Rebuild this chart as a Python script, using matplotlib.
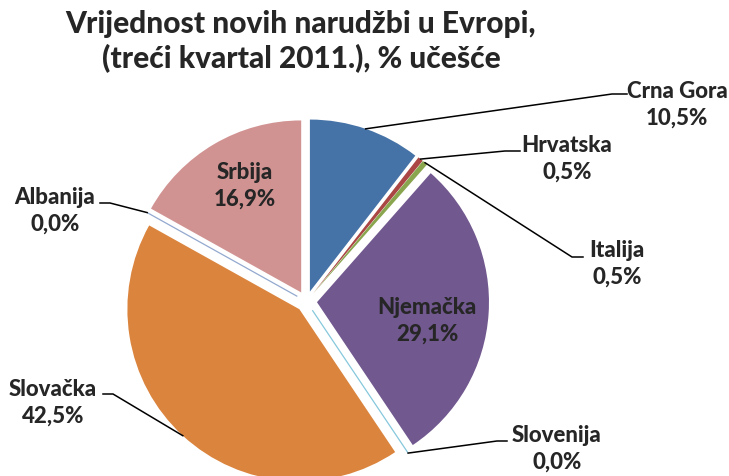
import matplotlib
matplotlib.use("Agg")
import matplotlib.pyplot as plt
import numpy as np

# data ---------------------------------------------------------------------
countries = ["Crna Gora", "Hrvatska", "Italija", "Njemačka", "Slovenija",
             "Slovačka", "Albanija", "Srbija"]
shares = [10.5, 0.5, 0.5, 29.1, 0.0, 42.5, 0.0, 16.9]
colors = ["#4572A7", "#AA4643", "#89A54E", "#71588F", "#86C8DC",
          "#DB843D", "#93A9CF", "#D19392"]

TXT = "#262626"
FONT = "Lato"
WEIGHT = "black"

# figure in pixel coordinates (y measured up from the bottom)
W, H = 729, 476
fig = plt.figure(figsize=(W / 100, H / 100), dpi=100)
ax = fig.add_axes([0, 0, 1, 1])

CX, CY, R = 306.5, H - 301.5, 172
wedges, _ = ax.pie(shares, colors=colors, startangle=90, counterclock=False,
                   radius=R, center=(CX, CY), explode=[10.5] * len(shares),
                   wedgeprops=dict(edgecolor="none", linewidth=0))
for w, v, c in zip(wedges, shares, colors):
    if v == 0:
        w.set_edgecolor(c); w.set_linewidth(0.9)

ax.set_xlim(0, W)
ax.set_ylim(0, H)
ax.set_aspect("equal")
ax.axis("off")


def edge_point(w):
    a = np.deg2rad((w.theta1 + w.theta2) / 2)
    return w.center[0] + w.r * np.cos(a), w.center[1] + w.r * np.sin(a)


def fmt(v):
    return f"{v:.1f}%".replace(".", ",")


# outside labels: elbow, line end, text centre (pixels from top-left)
outside = {
    "Crna Gora": ((612, 94), (627, 94), (677, 105)),
    "Hrvatska": ((505, 151), (520, 151), (567, 159)),
    "Italija": ((572, 257), (583, 257), (617, 264)),
    "Slovenija": ((497, 441), (507, 441), (557, 449)),
    "Slovačka": ((113, 394), (103, 394), (53, 403)),
    "Albanija": ((110, 203), (100, 203), (55, 211)),
}
inside = {"Srbija": (245, 186), "Njemačka": (427, 321)}

for w, name, v in zip(wedges, countries, shares):
    lbl = f"{name}\n{fmt(v)}"
    if name in outside:
        (ex, ey), (lx, ly), (tx, ty) = outside[name]
        sx, sy = edge_point(w)
        ax.plot([sx, ex, lx], [sy, H - ey, H - ly], color="black", lw=1.1,
                solid_joinstyle="miter")
    else:
        tx, ty = inside[name]
    ax.text(tx, H - ty, lbl, ha="center", va="center", color=TXT,
            fontsize=16, fontweight=WEIGHT, family=FONT, linespacing=1.3)

ax.text(301, H - 42, "Vrijednost novih narudžbi u Evropi,\n(treći kvartal 2011.), % učešće",
        ha="center", va="center", color=TXT, fontsize=21.5, fontweight=WEIGHT,
        family=FONT, linespacing=1.25)

fig.savefig("out.png", dpi=100, facecolor="white")
